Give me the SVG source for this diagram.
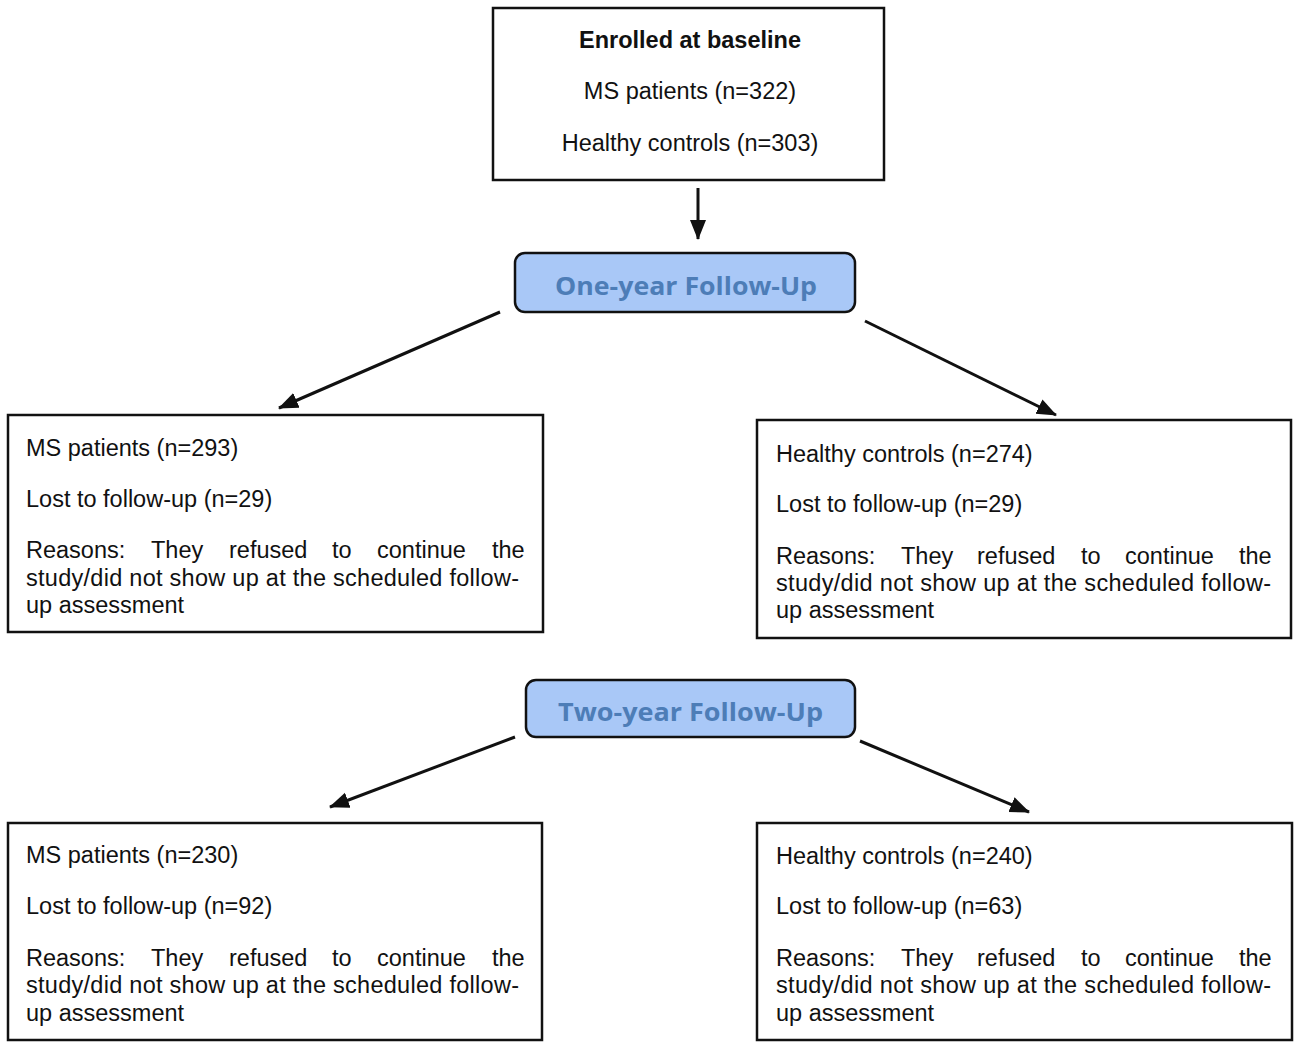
<svg xmlns="http://www.w3.org/2000/svg" width="1300" height="1049" viewBox="0 0 1300 1049">
<style>
.box{fill:#fff;stroke:#111;stroke-width:2.5}
.fu{fill:#a9c8f7;stroke:#111;stroke-width:2.5}
.t{font-family:"Liberation Sans",Arial,sans-serif;font-size:23.5px;fill:#111}
.b{font-weight:bold}
.h{font-family:"Open Sans","Lato",sans-serif;font-weight:bold;font-size:25px;fill:#4d7db7}
.c{stroke:#111;stroke-width:3;fill:none;marker-end:url(#ah)}
</style>
<defs>
<marker id="ah" markerUnits="userSpaceOnUse" markerWidth="20" markerHeight="18" viewBox="0 0 20 18" refX="19" refY="9" orient="auto">
<path d="M0,1 L20,9 L0,17 z" fill="#111"/>
</marker>
</defs>
<rect width="1300" height="1049" fill="#fff"/>
<g id="connectors">
<line class="c" x1="698" y1="188" x2="698" y2="239"/>
<line class="c" x1="500" y1="312" x2="279" y2="408"/>
<line class="c" x1="865" y1="321" x2="1056" y2="415"/>
<line class="c" x1="515" y1="737" x2="330" y2="807"/>
<line class="c" x1="860" y1="741" x2="1029" y2="812"/>
</g>
<g id="baseline">
<rect class="box" x="493" y="8" width="391" height="172"/>
<text class="t b" x="690" y="48" text-anchor="middle">Enrolled at baseline</text>
<text class="t" x="690" y="99" text-anchor="middle">MS patients (n=322)</text>
<text class="t" x="690" y="151" text-anchor="middle">Healthy controls (n=303)</text>
</g>
<g id="oneyear">
<rect class="fu" x="515" y="253" width="340" height="59" rx="10"/>
<text class="h" x="555" y="295" textLength="262" lengthAdjust="spacingAndGlyphs">One-year Follow-Up</text>
</g>
<g id="ms1">
<rect class="box" x="8" y="415" width="535" height="217"/>
<text class="t" x="26" y="456">MS patients (n=293)</text>
<text class="t" x="26" y="507">Lost to follow-up (n=29)</text>
<text class="t" y="558"><tspan x="26">Reasons:</tspan><tspan x="151">They</tspan><tspan x="229">refused</tspan><tspan x="332">to</tspan><tspan x="377">continue</tspan><tspan x="492">the</tspan></text>
<text class="t" x="26" y="586" textLength="493" lengthAdjust="spacing">study/did not show up at the scheduled follow-</text>
<text class="t" x="26" y="613">up assessment</text>
</g>
<g id="hc1">
<rect class="box" x="757" y="420" width="534" height="218"/>
<text class="t" x="776" y="462">Healthy controls (n=274)</text>
<text class="t" x="776" y="512">Lost to follow-up (n=29)</text>
<text class="t" y="564"><tspan x="776">Reasons:</tspan><tspan x="901">They</tspan><tspan x="977">refused</tspan><tspan x="1081">to</tspan><tspan x="1125">continue</tspan><tspan x="1239">the</tspan></text>
<text class="t" x="776" y="591" textLength="495" lengthAdjust="spacing">study/did not show up at the scheduled follow-</text>
<text class="t" x="776" y="618">up assessment</text>
</g>
<g id="twoyear">
<rect class="fu" x="526" y="680" width="329" height="57" rx="10"/>
<text class="h" x="558" y="721" textLength="265" lengthAdjust="spacingAndGlyphs">Two-year Follow-Up</text>
</g>
<g id="ms2">
<rect class="box" x="8" y="823" width="534" height="217"/>
<text class="t" x="26" y="863">MS patients (n=230)</text>
<text class="t" x="26" y="914">Lost to follow-up (n=92)</text>
<text class="t" y="966"><tspan x="26">Reasons:</tspan><tspan x="151">They</tspan><tspan x="229">refused</tspan><tspan x="332">to</tspan><tspan x="377">continue</tspan><tspan x="492">the</tspan></text>
<text class="t" x="26" y="993" textLength="493" lengthAdjust="spacing">study/did not show up at the scheduled follow-</text>
<text class="t" x="26" y="1021">up assessment</text>
</g>
<g id="hc2">
<rect class="box" x="757" y="823" width="535" height="217"/>
<text class="t" x="776" y="864">Healthy controls (n=240)</text>
<text class="t" x="776" y="914">Lost to follow-up (n=63)</text>
<text class="t" y="966"><tspan x="776">Reasons:</tspan><tspan x="901">They</tspan><tspan x="977">refused</tspan><tspan x="1081">to</tspan><tspan x="1125">continue</tspan><tspan x="1239">the</tspan></text>
<text class="t" x="776" y="993" textLength="495" lengthAdjust="spacing">study/did not show up at the scheduled follow-</text>
<text class="t" x="776" y="1021">up assessment</text>
</g>
</svg>
